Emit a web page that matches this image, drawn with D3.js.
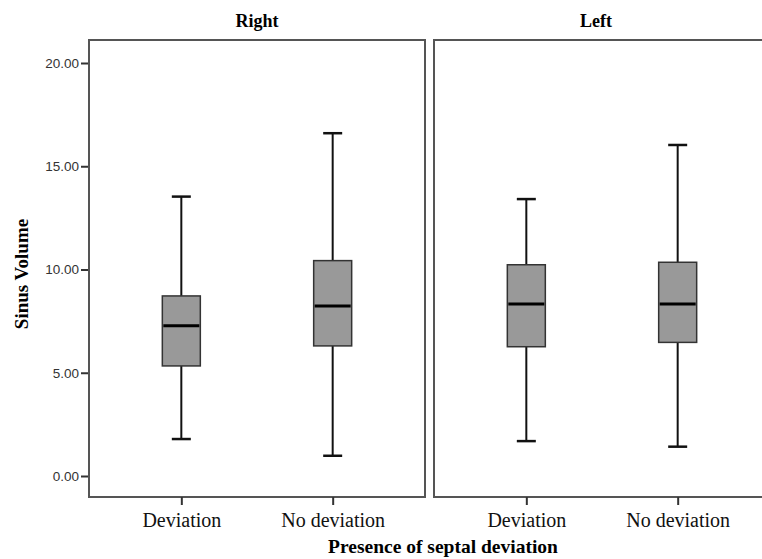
<!DOCTYPE html>
<html><head><meta charset="utf-8">
<script src="https://cdn.jsdelivr.net/npm/d3@7"></script>
<style>body{margin:0;background:#fff}svg{display:block}</style>
</head><body>
<svg id="c" width="762" height="559"></svg>
<script>
const panels = ["Right", "Left"];
const categories = ["Deviation", "No deviation"];
// [min, q1, median, q3, max] per panel, per category
const rightStats = [[1.79, 5.33, 7.28, 8.72, 13.53], [0.98, 6.30, 8.23, 10.43, 16.60]];
const leftStats  = [[1.69, 6.26, 8.33, 10.23, 13.41], [1.42, 6.47, 8.33, 10.35, 16.03]];
const yTicks = [0, 5, 10, 15, 20];
const panelStats = [rightStats, leftStats];

(function () {
const svg = d3.select("#c");
const plotTop = 40, plotBottom = 497;
const panelX = [89, 434], panelW = 336;
const y = d3.scaleLinear().domain([0, 20]).range([476, 63]);
const frame = "#555";
const serif = "Liberation Serif, Times New Roman, serif";

const yAxis = svg.append("g").attr("transform", `translate(${panelX[0]},0)`)
  .call(d3.axisLeft(y).tickValues(yTicks).tickFormat(d3.format(".2f")).tickSize(8).tickPadding(2));
yAxis.select(".domain").remove();
yAxis.selectAll(".tick line").attr("stroke", "#333").attr("stroke-width", 2);
yAxis.selectAll(".tick text").attr("font-family", "Liberation Sans, Arial, sans-serif")
  .attr("font-size", 13.5).attr("fill", "#333");

panels.forEach((p, i) => {
  const x0 = panelX[i];
  const x = d3.scalePoint().domain(categories).range([x0, x0 + panelW]).padding(0.61);
  const g = svg.append("g");
  g.append("rect").attr("x", x0).attr("y", plotTop).attr("width", panelW).attr("height", plotBottom - plotTop)
    .attr("fill", "none").attr("stroke", frame).attr("stroke-width", 2);
  g.append("text").attr("x", x0 + panelW / 2 + (i === 1 ? -6 : 0)).attr("y", 27).attr("text-anchor", "middle")
    .attr("font-family", serif).attr("font-weight", "bold")
    .attr("font-size", 18).text(p);
  const xa = svg.append("g").attr("transform", `translate(0,${plotBottom})`)
    .call(d3.axisBottom(x).tickSize(8).tickPadding(9));
  xa.select(".domain").remove();
  xa.selectAll(".tick line").attr("stroke", "#333").attr("stroke-width", 2);
  xa.selectAll(".tick text").attr("font-family", serif)
    .attr("font-size", 20).attr("fill", "#111").attr("dy", "0.65em");

  const bw = 38, cw = 19;
  panelStats[i].forEach((s, j) => {
    const cx = x(categories[j]);
    const [mn, q1, md, q3, mx] = s;
    g.append("line").attr("x1", cx).attr("x2", cx).attr("y1", y(mx)).attr("y2", y(q3))
      .attr("stroke", "#111").attr("stroke-width", 2);
    g.append("line").attr("x1", cx).attr("x2", cx).attr("y1", y(q1)).attr("y2", y(mn))
      .attr("stroke", "#111").attr("stroke-width", 2);
    [mn, mx].forEach(v => g.append("line").attr("x1", cx - cw / 2).attr("x2", cx + cw / 2)
      .attr("y1", y(v)).attr("y2", y(v)).attr("stroke", "#111").attr("stroke-width", 2.5));
    g.append("rect").attr("x", cx - bw / 2).attr("y", y(q3)).attr("width", bw).attr("height", y(q1) - y(q3))
      .attr("fill", "#999").attr("stroke", "#333").attr("stroke-width", 1.5);
    g.append("line").attr("x1", cx - bw / 2 + 1).attr("x2", cx + bw / 2 - 1).attr("y1", y(md)).attr("y2", y(md))
      .attr("stroke", "#000").attr("stroke-width", 3);
  });
});

svg.append("text").attr("x", 443).attr("y", 553).attr("text-anchor", "middle")
  .attr("font-family", serif).attr("font-weight", "bold")
  .attr("font-size", 19.5).text("Presence of septal deviation");
svg.append("text").attr("transform", "translate(28,274) rotate(-90)").attr("text-anchor", "middle")
  .attr("font-family", serif).attr("font-weight", "bold")
  .attr("font-size", 19).text("Sinus Volume");
})();
</script>
</body></html>
